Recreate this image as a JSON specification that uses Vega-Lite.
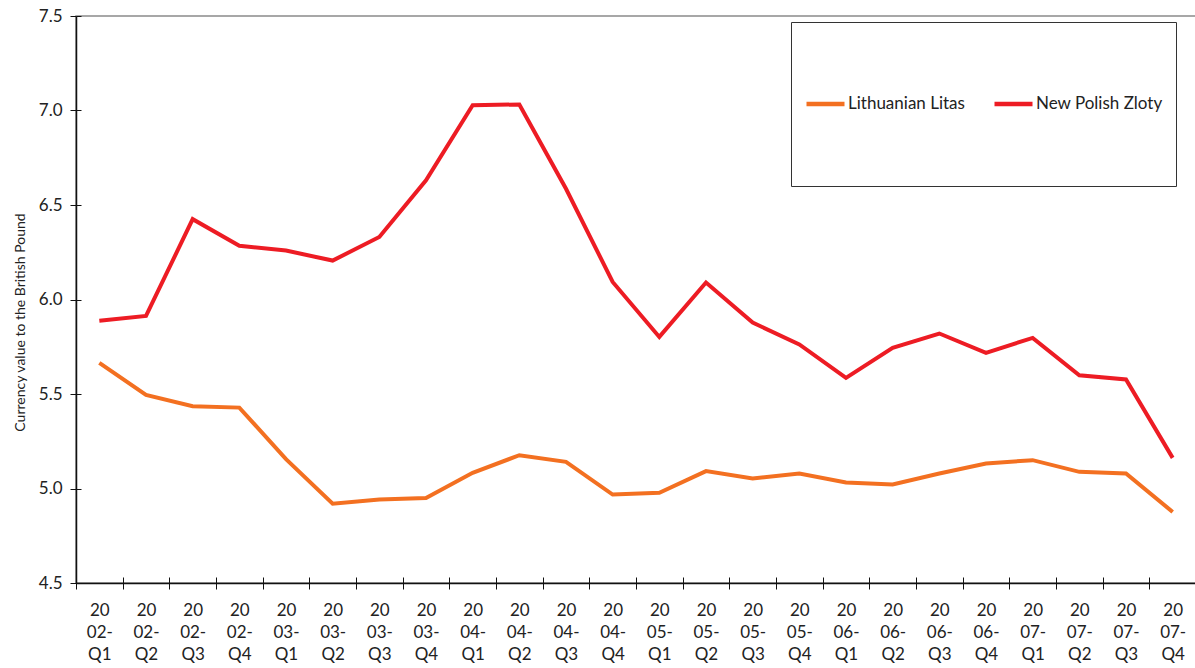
{
  "$schema": "https://vega.github.io/schema/vega-lite/v6.json",
  "autosize": {"type": "none"},
  "padding": {"left": 76, "top": 16, "right": 0, "bottom": 85},
  "width": 1120,
  "height": 567,
  "background": "white",
  "config": {
    "font": "Lato",
    "view": {"stroke": "#8a8a8a", "strokeWidth": 1.5},
    "axis": {
      "domainColor": "#111",
      "domainWidth": 1.5,
      "tickColor": "#111",
      "tickWidth": 1,
      "labelColor": "#222",
      "titleColor": "#222",
      "grid": false
    }
  },
  "data": {
    "values": [
      {"quarter": "2002-Q1", "currency": "Lithuanian Litas", "value": 5.665},
      {"quarter": "2002-Q2", "currency": "Lithuanian Litas", "value": 5.495},
      {"quarter": "2002-Q3", "currency": "Lithuanian Litas", "value": 5.435},
      {"quarter": "2002-Q4", "currency": "Lithuanian Litas", "value": 5.428},
      {"quarter": "2003-Q1", "currency": "Lithuanian Litas", "value": 5.155},
      {"quarter": "2003-Q2", "currency": "Lithuanian Litas", "value": 4.92},
      {"quarter": "2003-Q3", "currency": "Lithuanian Litas", "value": 4.942},
      {"quarter": "2003-Q4", "currency": "Lithuanian Litas", "value": 4.95},
      {"quarter": "2004-Q1", "currency": "Lithuanian Litas", "value": 5.083},
      {"quarter": "2004-Q2", "currency": "Lithuanian Litas", "value": 5.176},
      {"quarter": "2004-Q3", "currency": "Lithuanian Litas", "value": 5.141},
      {"quarter": "2004-Q4", "currency": "Lithuanian Litas", "value": 4.968},
      {"quarter": "2005-Q1", "currency": "Lithuanian Litas", "value": 4.977},
      {"quarter": "2005-Q2", "currency": "Lithuanian Litas", "value": 5.092},
      {"quarter": "2005-Q3", "currency": "Lithuanian Litas", "value": 5.053},
      {"quarter": "2005-Q4", "currency": "Lithuanian Litas", "value": 5.079},
      {"quarter": "2006-Q1", "currency": "Lithuanian Litas", "value": 5.032},
      {"quarter": "2006-Q2", "currency": "Lithuanian Litas", "value": 5.021},
      {"quarter": "2006-Q3", "currency": "Lithuanian Litas", "value": 5.079},
      {"quarter": "2006-Q4", "currency": "Lithuanian Litas", "value": 5.132},
      {"quarter": "2007-Q1", "currency": "Lithuanian Litas", "value": 5.15},
      {"quarter": "2007-Q2", "currency": "Lithuanian Litas", "value": 5.088},
      {"quarter": "2007-Q3", "currency": "Lithuanian Litas", "value": 5.079},
      {"quarter": "2007-Q4", "currency": "Lithuanian Litas", "value": 4.876},
      {"quarter": "2002-Q1", "currency": "New Polish Zloty", "value": 5.887},
      {"quarter": "2002-Q2", "currency": "New Polish Zloty", "value": 5.913},
      {"quarter": "2002-Q3", "currency": "New Polish Zloty", "value": 6.425},
      {"quarter": "2002-Q4", "currency": "New Polish Zloty", "value": 6.284},
      {"quarter": "2003-Q1", "currency": "New Polish Zloty", "value": 6.259},
      {"quarter": "2003-Q2", "currency": "New Polish Zloty", "value": 6.206},
      {"quarter": "2003-Q3", "currency": "New Polish Zloty", "value": 6.331},
      {"quarter": "2003-Q4", "currency": "New Polish Zloty", "value": 6.631},
      {"quarter": "2004-Q1", "currency": "New Polish Zloty", "value": 7.028},
      {"quarter": "2004-Q2", "currency": "New Polish Zloty", "value": 7.032},
      {"quarter": "2004-Q3", "currency": "New Polish Zloty", "value": 6.586},
      {"quarter": "2004-Q4", "currency": "New Polish Zloty", "value": 6.093},
      {"quarter": "2005-Q1", "currency": "New Polish Zloty", "value": 5.802},
      {"quarter": "2005-Q2", "currency": "New Polish Zloty", "value": 6.09},
      {"quarter": "2005-Q3", "currency": "New Polish Zloty", "value": 5.878},
      {"quarter": "2005-Q4", "currency": "New Polish Zloty", "value": 5.762},
      {"quarter": "2006-Q1", "currency": "New Polish Zloty", "value": 5.585},
      {"quarter": "2006-Q2", "currency": "New Polish Zloty", "value": 5.744},
      {"quarter": "2006-Q3", "currency": "New Polish Zloty", "value": 5.82},
      {"quarter": "2006-Q4", "currency": "New Polish Zloty", "value": 5.718},
      {"quarter": "2007-Q1", "currency": "New Polish Zloty", "value": 5.797},
      {"quarter": "2007-Q2", "currency": "New Polish Zloty", "value": 5.599},
      {"quarter": "2007-Q3", "currency": "New Polish Zloty", "value": 5.577},
      {"quarter": "2007-Q4", "currency": "New Polish Zloty", "value": 5.162}
    ]
  },
  "resolve": {"axis": {"x": "independent", "y": "independent"}},
  "layer": [
    {
      "mark": {"type": "line", "strokeWidth": 4, "strokeJoin": "miter", "strokeCap": "butt"},
      "encoding": {
        "x": {
          "field": "quarter",
          "type": "ordinal",
          "bandPosition": 0.5,
          "scale": {"type": "band", "paddingInner": 0, "paddingOuter": 0},
          "axis": {
            "orient": "bottom",
            "title": null,
            "labelAngle": 0,
            "tickBand": "extent",
            "tickSize": 6,
            "labelPadding": 13,
            "labelFontSize": 17,
            "labelLineHeight": 22,
            "labelBaseline": "top",
            "labelExpr": "[slice(datum.label, 0, 2), slice(datum.label, 2, 5), slice(datum.label, 5)]"
          }
        },
        "y": {
          "field": "value",
          "type": "quantitative",
          "scale": {"domain": [4.5, 7.5], "nice": false, "zero": false},
          "axis": {
            "orient": "left",
            "title": "Currency value to the British Pound",
            "titleFontSize": 14,
            "titleFontWeight": "normal",
            "titleX": -55.5,
            "titleY": 306,
            "titleBaseline": "middle",
            "titleAlign": "center",
            "titleAngle": -90,
            "values": [4.5, 5.0, 5.5, 6.0, 6.5, 7.0, 7.5],
            "format": ".1f",
            "labelFontSize": 17,
            "tickSize": 6,
            "labelPadding": 8
          }
        },
        "color": {
          "field": "currency",
          "type": "nominal",
          "scale": {
            "domain": ["Lithuanian Litas", "New Polish Zloty"],
            "range": ["#F37021", "#ED1C24"]
          },
          "legend": {
            "title": null,
            "orient": "none",
            "legendX": 715,
            "legendY": 6,
            "direction": "horizontal",
            "padding": 13,
            "clipHeight": 138,
            "strokeColor": "#333",
            "fillColor": "white",
            "symbolType": "stroke",
            "symbolSize": 1444,
            "symbolStrokeWidth": 4.5,
            "labelFontSize": 17,
            "labelColor": "#222",
            "labelOffset": 1,
            "columnPadding": 27
          }
        }
      }
    },
    {
      "description": "Inward half of the cross-shaped ticks on both axes",
      "mark": {"type": "line", "strokeOpacity": 0},
      "encoding": {
        "x": {
          "field": "quarter",
          "type": "ordinal",
          "bandPosition": 0.5,
          "axis": {
            "orient": "bottom",
            "title": null,
            "labels": false,
            "domain": false,
            "tickBand": "extent",
            "tickSize": -6
          }
        },
        "y": {
          "field": "value",
          "type": "quantitative",
          "axis": {
            "orient": "left",
            "title": null,
            "labels": false,
            "domain": false,
            "values": [4.5, 5.0, 5.5, 6.0, 6.5, 7.0, 7.5],
            "tickSize": -5
          }
        },
        "detail": {"field": "currency"}
      }
    }
  ]
}
